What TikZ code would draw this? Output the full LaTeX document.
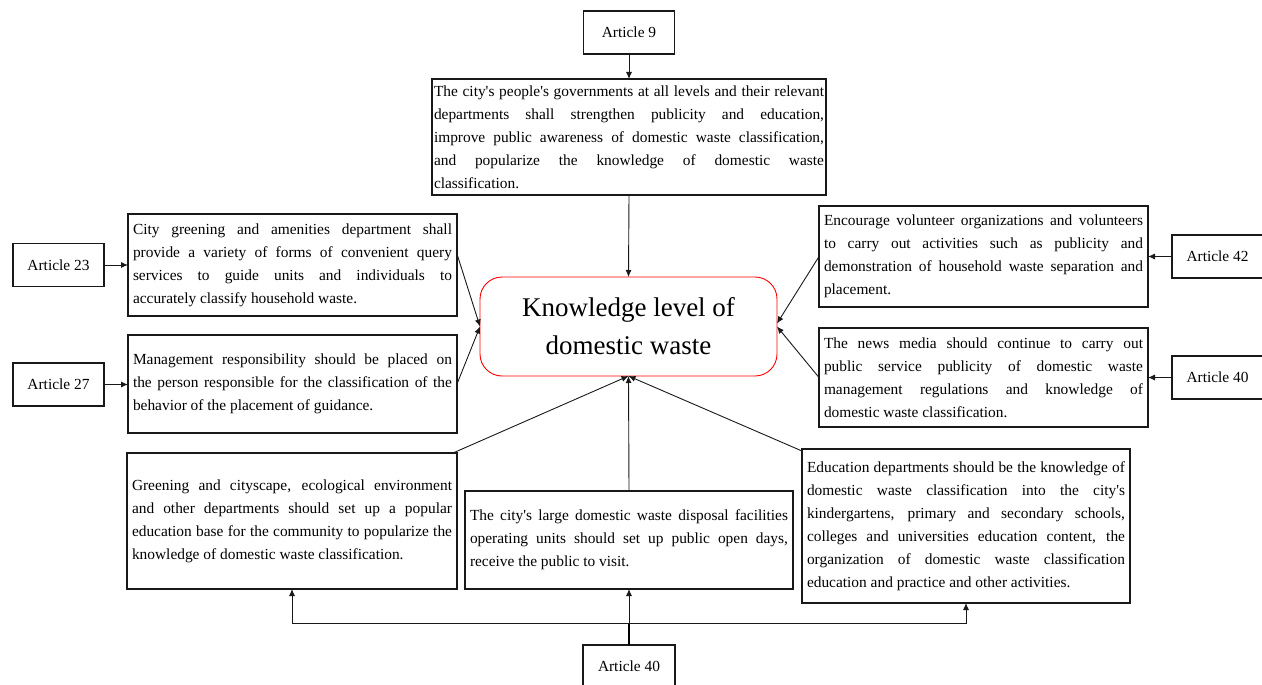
\documentclass[tikz,border=0pt]{standalone}
\usepackage{fontspec}
\setmainfont{Liberation Serif}[Ligatures=TeXOff]
\usetikzlibrary{arrows.meta}

\tikzset{
  txt/.style={font=\fontsize{15.4}{23}\selectfont},
  para/.style={txt, draw=black!90, line width=1.1pt, outer sep=0pt, inner ysep=0pt,
    inner xsep=5pt, align=justify, text width=#1-10pt, minimum width=#1},
  art/.style={txt, draw=black!90, line width=1.1pt, outer sep=0pt, inner sep=0pt,
    minimum width=91pt, minimum height=43pt},
  hub/.style={draw=red, line width=0.9pt, rounded corners=22pt, outer sep=0pt,
    minimum width=297pt, minimum height=99pt, align=center,
    font=\fontsize{27}{38}\selectfont},
  arr/.style={draw=black!90, line width=0.9pt, -{Latex[length=7pt,width=6pt]}},
  link/.style={draw=black, line width=1.1pt}
}

\begin{document}
\begin{tikzpicture}[x=1pt, y=-1pt]
\fill[white] (0,0) rectangle (1262,685);
\useasboundingbox (0,0) rectangle (1262,685);
\hyphenpenalty=10000 \tolerance=10000

% central topic
\node[hub] (cen) at (628.5,326.5) {Knowledge level of\\domestic waste};

% top branch
\node[art] (a9) at (629,32.5) {Article 9};
\node[para=394pt, inner xsep=2pt, text width=390pt, minimum height=116pt] (top) at (629,137)
  {The city's people's governments at all levels and their relevant\linebreak
   departments shall strengthen publicity and education,\linebreak
   improve public awareness of domestic waste classification,\linebreak
   and popularize the knowledge of domestic waste\linebreak
   classification.};

% left branches
\node[art] (a23) at (58.5,265) {Article 23};
\node[para=329pt, minimum height=102pt] (b1) at (292.5,265)
  {City greening and amenities department shall\linebreak
   provide a variety of forms of convenient query\linebreak
   services to guide units and individuals to\linebreak
   accurately classify household waste.};
\node[art] (a27) at (58.5,384.5) {Article 27};
\node[para=329pt, minimum height=98pt] (b2) at (292.5,384)
  {Management responsibility should be placed on\linebreak
   the person responsible for the classification of the\linebreak
   behavior of the placement of guidance.};

% right branches
\node[art] (a42) at (1217.5,256.5) {Article 42};
\node[para=329pt, minimum height=101pt] (b3) at (983.5,256.5)
  {Encourage volunteer organizations and volunteers\linebreak
   to carry out activities such as publicity and\linebreak
   demonstration of household waste separation and\linebreak
   placement.};
\node[art] (a40r) at (1217.5,377.5) {Article 40};
\node[para=329pt, minimum height=99pt] (b4) at (983.5,377.5)
  {The news media should continue to carry out\linebreak
   public service publicity of domestic waste\linebreak
   management regulations and knowledge of\linebreak
   domestic waste classification.};

% bottom branches
\node[para=330pt, minimum height=136pt] (b5) at (292,521)
  {Greening and cityscape, ecological environment\linebreak
   and other departments should set up a popular\linebreak
   education base for the community to popularize the\linebreak
   knowledge of domestic waste classification.};
\node[para=328pt, minimum height=98pt] (b6) at (629,540)
  {The city's large domestic waste disposal facilities\linebreak
   operating units should set up public open days,\linebreak
   receive the public to visit.};
\node[para=328pt, minimum height=154pt] (b7) at (966,526)
  {Education departments should be the knowledge of\linebreak
   domestic waste classification into the city's\linebreak
   kindergartens, primary and secondary schools,\linebreak
   colleges and universities education content, the\linebreak
   organization of domestic waste classification\linebreak
   education and practice and other activities.};
\node[art, minimum width=92pt] (a40b) at (629,666.5) {Article 40};
\coordinate (j) at (629,623);

% connectors
\draw[arr] (a9.south) -- (top.north);
\draw[arr] (top.south) -- (cen.north);
\draw[arr] (a23.east) -- (b1.west);
\draw[arr] (a27.east) -- (a27.east -| b2.west);
\draw[arr] ([yshift=11pt]b1.east) -- (cen.west);
\draw[arr] (b2.east) -- (cen.west);
\draw[arr] (a42.west) -- (b3.east);
\draw[arr] (a40r.west) -- (b4.east);
\draw[arr] (b3.west) -- ([yshift=3pt]cen.east);
\draw[arr] (b4.west) -- (cen.east);
\draw[arr] ([xshift=-4pt]b5.north east) -- (cen.south);
\draw[arr] (b6.north) -- (cen.south);
\draw[arr] ([yshift=-2pt]b7.north west) -- (cen.south);
\draw[link] (a40b.north) -- (j);
\draw[arr] (j) -| (b5.south);
\draw[arr] (j) -- (b6.south);
\draw[arr] (j) -| (b7.south);
\end{tikzpicture}
\end{document}
